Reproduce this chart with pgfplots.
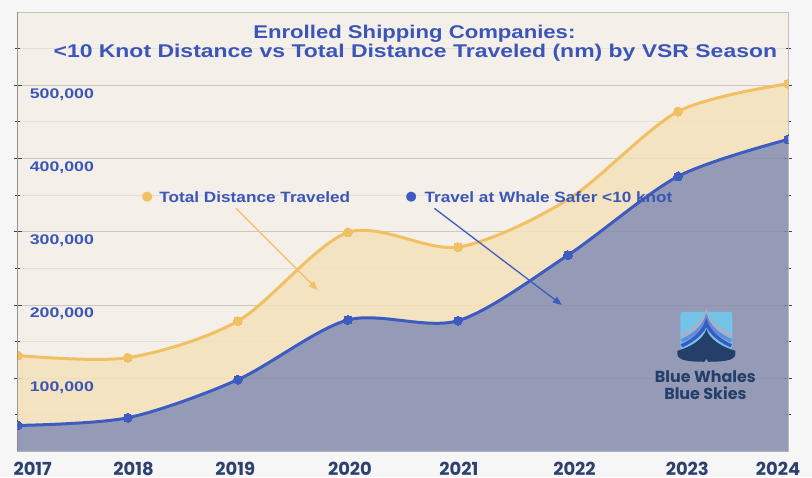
\documentclass[border=0pt]{standalone}
\usepackage{pgfplots}
\pgfplotsset{compat=1.18}
\usepgfplotslibrary{fillbetween}
\usetikzlibrary{arrows.meta}
\usepackage{fontspec}
\setmainfont{Liberation Sans}
\newfontfamily\titlefont{Liberation Sans}[FakeStretch=1.2]
\newfontfamily\titlefontb{Liberation Sans}[FakeStretch=1.245]
\newfontfamily\tickfont{Liberation Sans}[FakeStretch=1.27]
\newfontfamily\legfont{Liberation Sans}[FakeStretch=1.15]
\newfontfamily\popfont{Poppins}
\newfontfamily\symfont{DejaVu Sans}

\definecolor{outbg}{HTML}{F6F6F6}
\definecolor{plotbg}{HTML}{F4EFE9}
\definecolor{yel}{HTML}{F0C062}
\definecolor{yelfill}{HTML}{F3E1BA}
\definecolor{blueline}{HTML}{3D5BC0}
\definecolor{blufill}{HTML}{858CAE}
\definecolor{txtblue}{HTML}{3B56B8}
\definecolor{xlab}{HTML}{2C4170}
\definecolor{gridmaj}{HTML}{CCC7C1}
\definecolor{gridmin}{HTML}{E4DFD8}
\definecolor{framegray}{HTML}{C4C0BB}
\definecolor{axisdark}{HTML}{444444}
\definecolor{logolight}{HTML}{74C3E8}
\definecolor{logogray}{HTML}{A9AFC6}
\definecolor{logomid}{HTML}{5F8FDB}
\definecolor{logoroyal}{HTML}{3C58C2}
\definecolor{logonavy}{HTML}{233F6A}

\begin{document}
\pagecolor{outbg}
\begin{tikzpicture}
\begin{axis}[
  scale only axis, width=773pt, height=441pt,
  xmin=2017, xmax=2024, ymin=0, ymax=600000,
  axis background/.style={fill=plotbg},
  axis line style={draw=framegray, line width=0.8pt},
  xtick={2017.136,2018.052,2018.977,2020.019,2021.008,2022.059,2023.084,2023.909},
  xticklabels={2017,2018,2019,2020,2021,2022,2023,2024},
  xtick style={draw=none},
  xticklabel style={font=\popfont\bfseries\fontsize{18}{18}\selectfont, text=xlab, anchor=base, inner sep=0pt, yshift=-20.5pt},
  ytick={100000,200000,300000,400000,500000},
  minor ytick={50000,150000,250000,350000,450000,550000},
  ymajorgrids, yminorgrids,
  major grid style={draw=gridmaj, line width=0.9pt},
  minor grid style={draw=gridmin, line width=0.9pt},
  ytick style={draw=axisdark, line width=0.8pt},
  major tick length=8pt, minor tick length=5pt, tick align=center,
  scaled y ticks=false,
  yticklabel style={font=\tickfont\bfseries\fontsize{14}{14}\selectfont, text=txtblue, anchor=base west, inner sep=0pt, xshift=16pt, yshift=-13pt, /pgf/number format/.cd, fixed, 1000 sep={,}, assume math mode=true},
  clip marker paths=true,
]
\addplot[name path=tot, draw=yel, line width=3pt, smooth]
  coordinates {(2017,131000) (2018,128000) (2019,178000) (2020,299000) (2021,279000) (2022,344000) (2023,464000) (2024,502000)};
\addplot[name path=blu, draw=blueline, line width=3pt, smooth]
  coordinates {(2017,35500) (2018,46000) (2019,98000) (2020,179500) (2021,178500) (2022,268000) (2023,375500) (2024,426000)};
\addplot[name path=base, draw=none] coordinates {(2017,0) (2024,0)};
\addplot[fill=yelfill, fill opacity=0.85] fill between[of=tot and blu];
\addplot[fill=blufill, fill opacity=0.85] fill between[of=blu and base];
\addplot[only marks, mark=*, mark size=4.5pt, mark options={fill=yel, draw=yel, line width=0pt}]
  coordinates {(2017,131000) (2018,128000) (2019,178000) (2020,299000) (2021,279000) (2023,464000) (2024,502000)};
\addplot[only marks, mark=*, mark size=4.5pt, mark options={fill=blueline, draw=blueline, line width=0pt}]
  coordinates {(2017,35500) (2018,46000) (2019,98000) (2020,179500) (2021,178500) (2022,268000) (2023,375500) (2024,426000)};
\draw[axisdark, line width=1.2pt] (rel axis cs:0,0) -- (rel axis cs:0,1);
\end{axis}
\begin{scope}[shift={(-15pt,453pt)},x=1pt,y=-1pt]
% title
\node[anchor=base, inner sep=0pt, text=txtblue, font=\titlefont\bfseries\fontsize{18.5}{18.5}\selectfont] at (413,38.3) {Enrolled Shipping Companies:};
\node[anchor=base, inner sep=0pt, text=txtblue, font=\titlefontb\bfseries\fontsize{18.5}{18.5}\selectfont] at (414,57.5) {<10 Knot Distance vs Total Distance Traveled (nm) by VSR Season};
% annotations
\node[inner sep=0pt, text=yel, font=\symfont\fontsize{13}{13}\selectfont] at (145,198) {●};
\node[anchor=base west, inner sep=0pt, text=txtblue, font=\legfont\bfseries\fontsize{15}{15}\selectfont] at (157,203.5) {Total Distance Traveled};
\node[inner sep=0pt, text=blueline, font=\symfont\fontsize{13}{13}\selectfont] at (410,198) {●};
\node[anchor=base west, inner sep=0pt, text=txtblue, font=\legfont\bfseries\fontsize{15}{15}\selectfont] at (423,203.5) {Travel at Whale Safer <10 knot};
\draw[yel, line width=1.3pt, -{Triangle[length=9pt,width=7pt]}] (234,209) -- (316,291);
\draw[blueline, line width=1.3pt, -{Triangle[length=9pt,width=7pt]}] (433,209) -- (561,306);
% logo
\fill[logolight, rounded corners=2pt] (680,313) rectangle (732,350);
\draw[logogray, line width=3.5pt] (681,337) .. controls (695,331) and (704,321) .. (706,314) .. controls (708,321) and (717,331) .. (731,337);
\draw[logomid, line width=3.5pt] (681,342) .. controls (695,336) and (704,326) .. (706,319) .. controls (708,326) and (717,336) .. (731,342);
\draw[logoroyal, line width=3.5pt] (681,347) .. controls (695,341) and (704,331) .. (706,324) .. controls (708,331) and (717,341) .. (731,347);
\fill[logonavy] (706,330) .. controls (703,341) and (690,348) .. (677,352) -- (677,356) .. controls (678,362) and (690,363) .. (704,363) -- (706,360) -- (708,363) .. controls (722,363) and (734,362) .. (735,356) -- (735,352) .. controls (722,348) and (709,341) .. (706,330) -- cycle;
\node[anchor=base, inner sep=0pt, text=logonavy, font=\popfont\bfseries\fontsize{16}{16}\selectfont] at (705,384) {Blue Whales};
\node[anchor=base, inner sep=0pt, text=logonavy, font=\popfont\bfseries\fontsize{16}{16}\selectfont] at (705,401) {Blue Skies};
\pgfresetboundingbox
\path (0,0) rectangle (812,479);
\end{scope}
\end{tikzpicture}
\end{document}
